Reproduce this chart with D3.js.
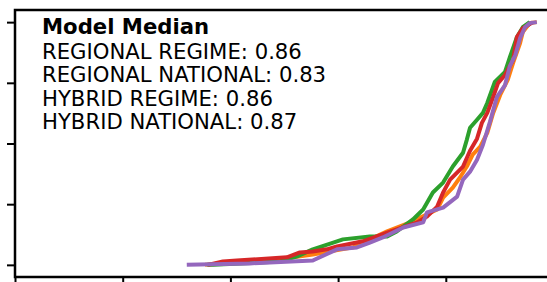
<!DOCTYPE html>
<html>
<head>
<meta charset="utf-8">
<script src="https://cdn.jsdelivr.net/npm/d3@7"></script>
<style>
  body { margin: 0; background: #fff; }
  svg { display: block; }
</style>
</head>
<body>
<div id="chart"></div>
<script>
// series labels, colours and medians (legend text)
const seriesNames = ['REGIONAL REGIME', 'REGIONAL NATIONAL', 'HYBRID REGIME', 'HYBRID NATIONAL'];
const seriesColors = ['#ff7f0e', '#2ca02c', '#d62728', '#9467bd'];
const medians = ['0.86', '0.83', '0.86', '0.87'];

// score (x) vs cumulative fraction (y)
const regionalRegimeX = [0.353, 0.474, 0.553, 0.628, 0.691, 0.734, 0.784, 0.795, 0.813, 0.826, 0.839, 0.850, 0.864, 0.877, 0.888, 0.901, 0.915, 0.925, 0.938, 0.943, 0.956, 0.969];
const regionalRegimeY = [0, 0.018, 0.043, 0.072, 0.138, 0.175, 0.228, 0.277, 0.318, 0.359, 0.405, 0.454, 0.487, 0.544, 0.626, 0.700, 0.762, 0.832, 0.914, 0.959, 0.996, 1.0];

const regionalNationalX = [0.357, 0.368, 0.492, 0.524, 0.553, 0.591, 0.609, 0.659, 0.691, 0.709, 0.739, 0.758, 0.776, 0.795, 0.813, 0.832, 0.839, 0.845, 0.858, 0.869, 0.877, 0.891, 0.910, 0.919, 0.932, 0.943, 0.956];
const regionalNationalY = [0, 0, 0.014, 0.035, 0.064, 0.092, 0.105, 0.117, 0.117, 0.138, 0.187, 0.228, 0.298, 0.339, 0.405, 0.462, 0.515, 0.565, 0.598, 0.626, 0.667, 0.754, 0.795, 0.856, 0.938, 0.979, 1.0];

const hybridRegimeX = [0.358, 0.386, 0.412, 0.505, 0.529, 0.553, 0.579, 0.598, 0.646, 0.691, 0.747, 0.765, 0.784, 0.795, 0.808, 0.832, 0.845, 0.858, 0.867, 0.877, 0.888, 0.897, 0.910, 0.925, 0.932, 0.943, 0.962];
const hybridRegimeY = [0, 0.014, 0.018, 0.031, 0.051, 0.055, 0.064, 0.076, 0.097, 0.133, 0.175, 0.199, 0.240, 0.298, 0.351, 0.405, 0.470, 0.520, 0.585, 0.626, 0.692, 0.749, 0.782, 0.844, 0.938, 0.975, 1.0];

const hybridNationalX = [0.319, 0.436, 0.553, 0.598, 0.635, 0.659, 0.683, 0.721, 0.758, 0.765, 0.795, 0.821, 0.832, 0.845, 0.858, 0.869, 0.882, 0.895, 0.910, 0.919, 0.929, 0.938, 0.947, 0.956, 0.969];
const hybridNationalY = [0, 0.006, 0.018, 0.064, 0.072, 0.092, 0.113, 0.154, 0.175, 0.216, 0.236, 0.281, 0.351, 0.384, 0.433, 0.495, 0.589, 0.692, 0.741, 0.819, 0.864, 0.934, 0.979, 0.996, 1.0];

const xTicks = [0, 0.2, 0.4, 0.6, 0.8, 1.0];
const yTicks = [0, 0.25, 0.5, 0.75, 1.0];

const seriesX = [regionalRegimeX, regionalNationalX, hybridRegimeX, hybridNationalX];
const seriesY = [regionalRegimeY, regionalNationalY, hybridRegimeY, hybridNationalY];

const width = 547;
const height = 282;
// plot box (right edge is cut off by the picture)
const boxL = 15, boxR = 553.5, boxT = 10, boxB = 277;

const x = d3.scaleLinear().domain([0, 1]).range([boxL, boxR]);
const y = d3.scaleLinear().domain([-0.05, 1.05]).range([boxB, boxT]);

const svg = d3.select('#chart')
  .append('svg')
  .attr('width', width)
  .attr('height', height);

const line = d3.line()
  .x(d => x(d[0]))
  .y(d => y(d[1]));

// curves
seriesX.forEach((xs, i) => {
  const pts = xs.map((v, j) => [v, seriesY[i][j]]);
  svg.append('path')
    .datum(pts)
    .attr('d', line)
    .attr('fill', 'none')
    .attr('stroke', seriesColors[i])
    .attr('stroke-width', 4)
    .attr('stroke-linejoin', 'round')
    .attr('stroke-linecap', 'butt');
});

// axes, no tick labels
svg.append('g')
  .attr('transform', `translate(0,${boxB})`)
  .call(d3.axisBottom(x).tickValues(xTicks).tickSize(8).tickFormat(''))
  .call(g => g.select('.domain').remove())
  .call(g => g.selectAll('line').attr('stroke', '#000').attr('stroke-width', 2));

svg.append('g')
  .attr('transform', `translate(${boxL},0)`)
  .call(d3.axisLeft(y).tickValues(yTicks).tickSize(8).tickFormat(''))
  .call(g => g.select('.domain').remove())
  .call(g => g.selectAll('line').attr('stroke', '#000').attr('stroke-width', 2));

// spines
svg.append('path')
  .attr('d', `M${boxR},${boxT}H${boxL}V${boxB}H${boxR}`)
  .attr('fill', 'none')
  .attr('stroke', '#000')
  .attr('stroke-width', 2.5);

// text box
const txt = svg.append('text')
  .attr('x', 42)
  .attr('y', 34)
  .attr('font-family', 'DejaVu Sans, sans-serif')
  .attr('font-size', 21.2)
  .attr('fill', '#000');

txt.append('tspan')
  .attr('x', 42)
  .attr('font-weight', 'bold')
  .text('Model Median');

seriesNames.forEach((name, i) => {
  txt.append('tspan')
    .attr('x', 42)
    .attr('dy', i === 0 ? 25 : 23.3)
    .text(`${name}: ${medians[i]}`);
});
</script>
</body>
</html>
